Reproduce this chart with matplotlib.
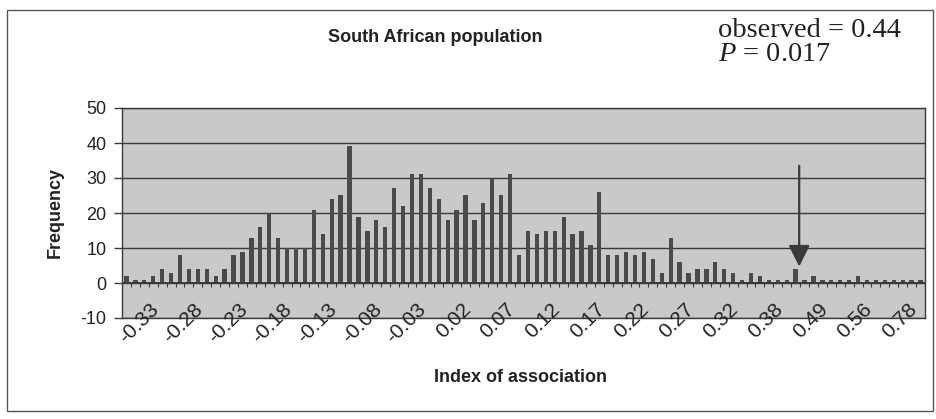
import numpy as np
import matplotlib
matplotlib.use("Agg")
import matplotlib.pyplot as plt
from matplotlib.patches import Rectangle

plt.rcParams["font.family"] = ["Liberation Sans", "DejaVu Sans"]
plt.rcParams["axes.unicode_minus"] = False
plt.rcParams["mathtext.fontset"] = "custom"
plt.rcParams["mathtext.rm"] = "Liberation Serif"
plt.rcParams["mathtext.it"] = "Liberation Serif:italic"

# frequency of each index-of-association class, left to right
freq = [2, 1, 1, 2, 4, 3, 8, 4, 4, 4,
        2, 4, 8, 9, 13, 16, 20, 13, 10, 10,
        10, 21, 14, 24, 25, 39, 19, 15, 18, 16,
        27, 22, 31, 31, 27, 24, 18, 21, 25, 18,
        23, 30, 25, 31, 8, 15, 14, 15, 15, 19,
        14, 15, 11, 26, 8, 8, 9, 8, 9, 7,
        3, 13, 6, 3, 4, 4, 6, 4, 3, 1,
        3, 2, 1, 1, 1, 4, 1, 2, 1, 1,
        1, 1, 2, 1, 1, 1, 1, 1, 1, 1]

# every fifth class carries a label, starting at the fourth
label_pos = [3, 8, 13, 18, 23, 28, 33, 38, 43, 48, 53, 58, 63, 68, 73, 78, 83, 88]
label_txt = ["-0.33", "-0.28", "-0.23", "-0.18", "-0.13", "-0.08", "-0.03", "0.02",
             "0.07", "0.12", "0.17", "0.22", "0.27", "0.32", "0.38", "0.49", "0.56", "0.78"]

observed_pos = 75.4   # class position of the observed value (0.44)
arrow_top = 33.5
arrow_tip = 4.7

W, H = 936, 419
fig = plt.figure(figsize=(W / 100, H / 100), dpi=100)
fig.patch.set_facecolor("white")

ax = fig.add_axes([122 / W, 1 - 318 / H, (925 - 122) / W, (318 - 108) / H])
ax.set_facecolor("#c9c9c9")

dark = "#3a3a3a"
x = np.arange(len(freq))
ax.bar(x, freq, width=0.48, color="#4a4a4a", zorder=3)

ax.set_xlim(-0.5, len(freq) - 0.5)
ax.set_ylim(-10, 50)
ax.set_yticks(range(-10, 51, 10))
ax.yaxis.grid(True, color=dark, lw=1.0, zorder=1)
ax.tick_params(axis="y", direction="out", length=6, width=1, color=dark,
               labelsize=13, labelcolor="#222222", pad=5)
ax.set_xticks([])
for s in ax.spines.values():
    s.set_color(dark)
    s.set_linewidth(1.0)

# category axis drawn at zero, with small ticks between classes
ax.axhline(0, color=dark, lw=1.4, zorder=4)
ax.vlines(np.arange(len(freq) + 1) - 0.5, -1.2, 0, color=dark, lw=0.8, zorder=4)

for p, t in zip(label_pos, label_txt):
    ax.text(p - 0.5, -4.8, t, rotation=45, rotation_mode="anchor",
            ha="right", va="top", fontsize=15, color="#222222")

ax.annotate("", xy=(observed_pos, arrow_tip), xytext=(observed_pos, arrow_top),
            arrowprops=dict(arrowstyle="-|>,head_length=1.3,head_width=0.65",
                            mutation_scale=10, color=dark, lw=1.6,
                            shrinkA=0, shrinkB=0), zorder=5)

ax.set_ylabel("Frequency", fontsize=13, fontweight="bold", color="#222222", labelpad=12)
fig.text(520 / W, 1 - 377 / H, "Index of association", fontsize=13,
         fontweight="bold", color="#222222", ha="center", va="center")
fig.text(435 / W, 1 - 37 / H, "South African population", fontsize=13,
         fontweight="bold", color="#222222", ha="center", va="center")

fig.text(718 / W, 1 - 37 / H, "observed = 0.44", family="Liberation Serif",
         fontsize=20.5, color="#222222", ha="left", va="baseline")
fig.text(718 / W, 1 - 61 / H, r"$P$ = 0.017", family="Liberation Serif",
         fontsize=20.5, color="#222222", ha="left", va="baseline")

# chart frame
fig.patches.append(Rectangle((7 / W, 1 - 411 / H), (933 - 7) / W, (411 - 10) / H,
                             transform=fig.transFigure, fill=False,
                             ec="#555555", lw=1.0))

fig.savefig("out.png", dpi=100)
